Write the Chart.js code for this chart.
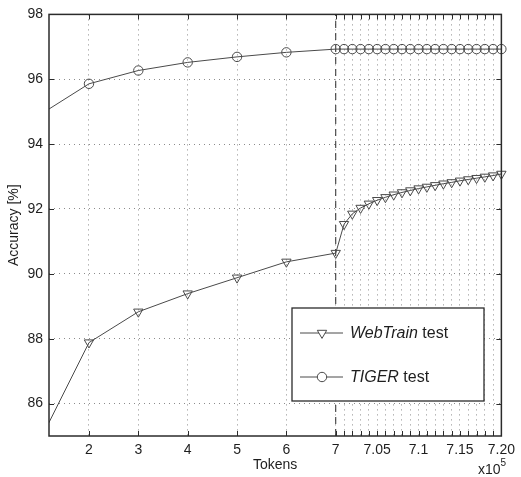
<!DOCTYPE html>
<html>
<head>
<meta charset="utf-8">
<script src="https://cdn.jsdelivr.net/npm/chart.js@4/dist/chart.umd.min.js"></script>
<style>
  html, body { margin: 0; padding: 0; background: #fff; }
  #wrap { width: 521px; height: 477px; }
</style>
</head>
<body>
<div id="wrap"><canvas id="chart" width="521" height="477"></canvas></div>
<script>
// Training-set size in units of 10^5 tokens (coarse steps, then the fine steps past 7).
const tokensCoarse = [1, 2, 3, 4, 5, 6, 7];
const tokensFine = [7.01, 7.02, 7.03, 7.04, 7.05, 7.06, 7.07, 7.08, 7.09, 7.10,
                    7.11, 7.12, 7.13, 7.14, 7.15, 7.16, 7.17, 7.18, 7.19, 7.20];

// Accuracy [%] for each token count.
const webTrainAcc = [84.84, 87.88, 88.83, 89.39, 89.88, 90.37, 90.64,
                     91.53, 91.85, 92.03, 92.16, 92.27, 92.36, 92.44, 92.51, 92.57, 92.63,
                     92.68, 92.73, 92.78, 92.82, 92.87, 92.91, 92.95, 92.99, 93.03, 93.08];
const tigerAcc = [94.90, 95.86, 96.27, 96.52, 96.69, 96.83, 96.93,
                  96.93, 96.93, 96.93, 96.93, 96.93, 96.93, 96.93, 96.93, 96.93, 96.93,
                  96.93, 96.93, 96.93, 96.93, 96.93, 96.93, 96.93, 96.93, 96.93, 96.93];

// Axis ticks.
const xMajorTicks = [2, 3, 4, 5, 6, 7, 7.05, 7.10, 7.15, 7.20];
const xMajorLabels = ['2', '3', '4', '5', '6', '7', '7.05', '7.1', '7.15', '7.20'];
const xMinorTicks = [7.01, 7.02, 7.03, 7.04, 7.06, 7.07, 7.08, 7.09,
                     7.11, 7.12, 7.13, 7.14, 7.16, 7.17, 7.18, 7.19];
const yTicks = [86, 88, 90, 92, 94, 96, 98];

const seriesNames = ['WebTrain', 'TIGER'];
const xUnitLabel = 'x10';
const xUnitExponent = '5';

const tokens = tokensCoarse.concat(tokensFine);

// The x axis is linear up to BREAK_AT and stretched by STRETCH beyond it.
const BREAK_AT = 7;
const STRETCH = 16.78;
const toAxis = v => (v <= BREAK_AT ? v : BREAK_AT + (v - BREAK_AT) * STRETCH);
const fromAxis = u => (u <= BREAK_AT ? u : BREAK_AT + (u - BREAK_AT) / STRETCH);

class BrokenLinearScale extends Chart.LinearScale {
  getPixelForValue(value) {
    if (value === null || value === undefined || isNaN(value)) return NaN;
    const u0 = toAxis(this.min), u1 = toAxis(this.max);
    return this.getPixelForDecimal((toAxis(value) - u0) / (u1 - u0));
  }
  getValueForPixel(pixel) {
    const u0 = toAxis(this.min), u1 = toAxis(this.max);
    return fromAxis(u0 + this.getDecimalForPixel(pixel) * (u1 - u0));
  }
}
BrokenLinearScale.id = 'brokenLinear';
BrokenLinearScale.defaults = {};
Chart.register(BrokenLinearScale);

const LINE = '#4a4a4a';
const AXIS = '#2b2b2b';
const TEXT = '#1e1e1e';
const GRID = '#8c8c8c';
const FONT = "'Liberation Sans', Arial, Helvetica, sans-serif";

const toPoints = ys => tokens.map((t, i) => ({ x: t, y: ys[i] }));
const hideFirst = ctx => (ctx.dataIndex === 0 ? 0 : ctx.dataset.markerRadius);

// Box, inward tick marks, legend and the exponent of the x axis.
const decorations = {
  id: 'decorations',
  afterDatasetsDraw(chart) {
    const { ctx, chartArea: a, scales: { x, y } } = chart;
    ctx.save();
    ctx.strokeStyle = AXIS;
    ctx.lineWidth = 1;
    const tl = 5;
    ctx.beginPath();
    xMajorTicks.concat(xMinorTicks).forEach(v => {
      const px = Math.round(x.getPixelForValue(v)) + 0.5;
      ctx.moveTo(px, a.bottom); ctx.lineTo(px, a.bottom - tl);
      ctx.moveTo(px, a.top); ctx.lineTo(px, a.top + tl);
    });
    yTicks.forEach(v => {
      const py = Math.round(y.getPixelForValue(v)) + 0.5;
      ctx.moveTo(a.left, py); ctx.lineTo(a.left + tl, py);
      ctx.moveTo(a.right, py); ctx.lineTo(a.right - tl, py);
    });
    ctx.stroke();
    ctx.lineWidth = 1.5;
    ctx.strokeRect(a.left, a.top, a.right - a.left, a.bottom - a.top);

    // legend
    const bx = 292, by = 308, bw = 192, bh = 93;
    ctx.fillStyle = '#fff';
    ctx.fillRect(bx, by, bw, bh);
    ctx.lineWidth = 1.3;
    ctx.strokeStyle = AXIS;
    ctx.strokeRect(bx, by, bw, bh);
    const rows = [by + 25, by + 69];
    chart.data.datasets.slice(0, 2).forEach((ds, i) => {
      const ry = rows[i];
      ctx.strokeStyle = ds.borderColor;
      ctx.lineWidth = ds.borderWidth;
      ctx.beginPath();
      ctx.moveTo(bx + 8, ry); ctx.lineTo(bx + 51, ry);
      ctx.stroke();
      ctx.fillStyle = '#fff';
      ctx.strokeStyle = ds.pointBorderColor;
      ctx.lineWidth = ds.pointBorderWidth;
      Chart.helpers.drawPoint(ctx, {
        pointStyle: ds.pointStyle, rotation: ds.pointRotation,
        radius: ds.markerRadius, borderWidth: ds.pointBorderWidth
      }, bx + 30, ry);
      ctx.fillStyle = TEXT;
      ctx.textBaseline = 'middle';
      ctx.textAlign = 'left';
      ctx.font = 'italic 16px ' + FONT;
      const name = seriesNames[i];
      ctx.fillText(name, bx + 58, ry + 1);
      const w = ctx.measureText(name).width;
      ctx.font = '16px ' + FONT;
      ctx.fillText(' test', bx + 58 + w, ry + 1);
    });

    // exponent of the x axis
    ctx.fillStyle = TEXT;
    ctx.textBaseline = 'alphabetic';
    ctx.textAlign = 'left';
    ctx.font = '14px ' + FONT;
    ctx.fillText(xUnitLabel, 478, 474);
    const w = ctx.measureText(xUnitLabel).width;
    ctx.font = '10px ' + FONT;
    ctx.fillText(xUnitExponent, 478 + w, 466);
    ctx.restore();
  }
};

const leftClip = { left: 0, top: false, right: false, bottom: false };

new Chart(document.getElementById('chart'), {
  type: 'line',
  data: {
    datasets: [
      {
        label: 'WebTrain test',
        data: toPoints(webTrainAcc),
        borderColor: LINE, borderWidth: 1,
        pointStyle: 'triangle', pointRotation: 180,
        markerRadius: 5.4,
        pointRadius: hideFirst,
        pointBorderColor: LINE, pointBackgroundColor: 'rgba(0,0,0,0)',
        pointBorderWidth: 1,
        clip: leftClip
      },
      {
        label: 'TIGER test',
        data: toPoints(tigerAcc),
        borderColor: LINE, borderWidth: 1,
        pointStyle: 'circle', pointRotation: 0,
        markerRadius: 4.7,
        pointRadius: hideFirst,
        pointBorderColor: LINE, pointBackgroundColor: 'rgba(0,0,0,0)',
        pointBorderWidth: 1,
        clip: leftClip
      },
      {
        label: 'break',
        data: [{ x: BREAK_AT, y: 85 }, { x: BREAK_AT, y: 98 }],
        borderColor: '#2a2a2a', borderWidth: 1, borderDash: [7, 5],
        pointRadius: 0, clip: 0
      }
    ]
  },
  options: {
    responsive: false,
    animation: false,
    events: [],
    layout: { padding: { left: 0, right: 15, top: 11, bottom: 0 } },
    plugins: { legend: { display: false }, tooltip: { enabled: false } },
    scales: {
      x: {
        type: 'brokenLinear',
        min: 1.19, max: 7.2,
        afterBuildTicks: s => {
          s.ticks = xMajorTicks.concat(xMinorTicks).sort((a, b) => a - b).map(v => ({ value: v }));
        },
        afterFit: s => { s.height = 41; },
        grid: { color: GRID, lineWidth: 1, drawTicks: false },
        border: { display: false, dash: [1, 4] },
        ticks: {
          autoSkip: false, maxRotation: 0, padding: 6, color: TEXT,
          font: { family: FONT, size: 14 },
          callback: v => {
            const i = xMajorTicks.findIndex(t => Math.abs(t - v) < 1e-9);
            return i >= 0 ? xMajorLabels[i] : '';
          }
        },
        title: {
          display: true, text: 'Tokens', color: TEXT,
          font: { family: FONT, size: 14 }, padding: { top: 0, bottom: 3 }
        }
      },
      y: {
        type: 'linear',
        min: 85, max: 98,
        afterBuildTicks: s => { s.ticks = yTicks.map(v => ({ value: v })); },
        afterFit: s => { s.width = 49; },
        grid: { color: GRID, lineWidth: 1, drawTicks: false },
        border: { display: false, dash: [1, 4] },
        ticks: {
          padding: 6, color: TEXT,
          font: { family: FONT, size: 14 },
          callback: v => String(v)
        },
        title: {
          display: true, text: 'Accuracy [%]', color: TEXT,
          font: { family: FONT, size: 14 }, padding: { top: 6, bottom: 0 }
        }
      }
    }
  },
  plugins: [decorations]
});
</script>
</body>
</html>
